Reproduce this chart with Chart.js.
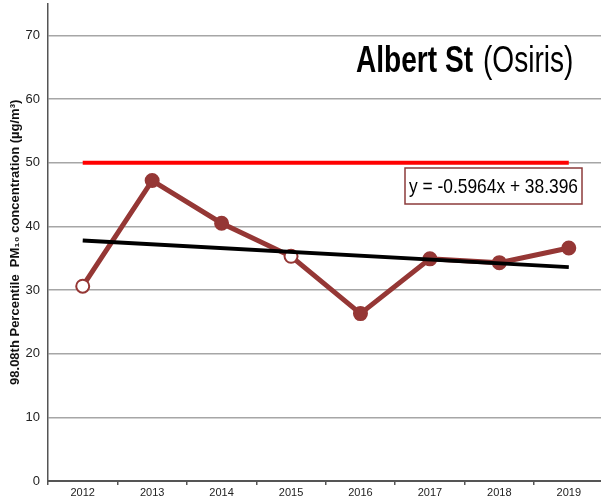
<!DOCTYPE html>
<html>
<head>
<meta charset="utf-8">
<style>
  html, body { margin: 0; padding: 0; background: #fff; }
  #clip { width: 601px; height: 500px; overflow: hidden; position: relative; }
  #wrap { width: 612px; height: 507px; position: absolute; top: -7px; left: 0; }
</style>
<script src="https://cdn.jsdelivr.net/npm/chart.js@4/dist/chart.umd.min.js"></script>
</head>
<body>
<div id="clip"><div id="wrap"><canvas id="chart"></canvas></div></div>
<script>
const years = ["2012", "2013", "2014", "2015", "2016", "2017", "2018", "2019"];
const pm10Values = [30.6, 47.2, 40.5, 35.3, 26.3, 34.9, 34.3, 36.6];
const hollowPoints = [true, false, false, true, false, false, false, false];
const trendValues = [37.8, null, null, null, null, null, null, 33.6];
const objectiveValues = [50, null, null, null, null, null, null, 50];
const yTicks = [0, 10, 20, 30, 40, 50, 60, 70];

const titleBold = "Albert St";
const titleRest = "(Osiris)";
const equationText = "y = -0.5964x + 38.396";

const seriesColor = "#953735";
const sansFont = "'Liberation Sans', Arial, sans-serif";
const shiftY = 7; // canvas is moved up by this much

// draw text squeezed horizontally, the reference uses a narrow face
function narrowText(ctx, text, x, y, squeeze) {
  ctx.save();
  ctx.translate(x, y);
  ctx.scale(squeeze, 1);
  ctx.fillText(text, 0, 0);
  ctx.restore();
  return ctx.measureText(text).width * squeeze;
}

const annotations = {
  id: "annotations",
  afterDatasetsDraw(chart) {
    const { ctx } = chart;
    ctx.save();
    ctx.translate(0, shiftY);
    // title
    ctx.textBaseline = "alphabetic";
    ctx.fillStyle = "#000";
    ctx.font = "bold 36px " + sansFont;
    let x = 356;
    x += narrowText(ctx, titleBold, x, 72, 0.78);
    x += 10;
    ctx.font = "36px " + sansFont;
    narrowText(ctx, titleRest, x, 72, 0.78);

    // trend equation box
    ctx.font = "21px " + sansFont;
    const squeeze = 169 / ctx.measureText(equationText).width;
    const bx = 405, by = 168, bw = 177, bh = 36;
    ctx.fillStyle = "#fff";
    ctx.fillRect(bx, by, bw, bh);
    ctx.strokeStyle = "#8c3b3b";
    ctx.lineWidth = 1.5;
    ctx.strokeRect(bx, by, bw, bh);
    ctx.fillStyle = "#000";
    ctx.textBaseline = "middle";
    narrowText(ctx, equationText, bx + 4, by + bh / 2 + 1, squeeze);
    ctx.restore();
  },
};

new Chart(document.getElementById("chart"), {
  type: "line",
  data: {
    labels: years,
    datasets: [
      {
        label: "Objective",
        data: objectiveValues,
        borderColor: "#ff0000",
        borderWidth: 4,
        pointRadius: 0,
        spanGaps: true,
        order: 3,
      },
      {
        label: "Trend",
        data: trendValues,
        borderColor: "#000000",
        borderWidth: 4,
        pointRadius: 0,
        spanGaps: true,
        order: 1,
      },
      {
        label: "PM10",
        data: pm10Values,
        borderColor: seriesColor,
        borderWidth: 5,
        pointRadius: 6.5,
        pointBorderWidth: 2,
        pointBorderColor: seriesColor,
        pointBackgroundColor: hollowPoints.map((h) => (h ? "#ffffff" : seriesColor)),
        order: 2,
      },
    ],
  },
  options: {
    responsive: true,
    maintainAspectRatio: false,
    animation: false,
    layout: { padding: { top: 3, right: 0, bottom: 0, left: 0 } },
    plugins: {
      legend: { display: false },
      tooltip: { enabled: false },
    },
    scales: {
      x: {
        offset: true,
        grid: {
          offset: true,
          drawOnChartArea: false,
          color: "#555",
          tickLength: 4,
          lineWidth: 1.5,
        },
        border: { color: "#555", width: 2 },
        ticks: {
          color: "#222",
          padding: 1,
          font: { family: sansFont, size: 11 },
        },
        afterFit: (scale) => { scale.height = 19; },
      },
      y: {
        min: 0,
        max: 75,
        afterBuildTicks: (axis) => {
          axis.ticks = yTicks.map((v) => ({ value: v }));
        },
        grid: {
          color: "#a6a6a6",
          lineWidth: 1.5,
          drawTicks: false,
        },
        border: { color: "#555", width: 1.5 },
        ticks: {
          color: "#222",
          padding: 8,
          font: { family: sansFont, size: 13, lineHeight: 0.4 },
        },
        title: {
          display: true,
          text: "98.08th Percentile  PM₁₀ concentration (µg/m³)",
          color: "#111",
          padding: { top: 8, bottom: 0 },
          font: { family: sansFont, size: 13, weight: "bold" },
        },
        afterFit: (scale) => { scale.width = 48; },
      },
    },
  },
  plugins: [annotations],
});
</script>
</body>
</html>
